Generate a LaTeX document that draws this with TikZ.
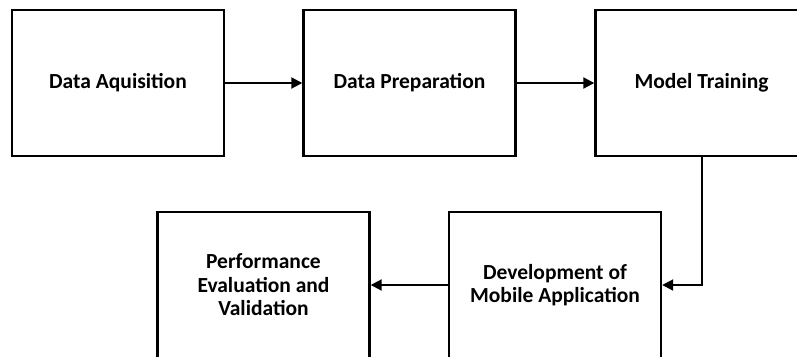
\documentclass[tikz,border=0pt]{standalone}
\usepackage{fontspec}
\setmainfont{Carlito}
\usetikzlibrary{arrows.meta}
\begin{document}
\begin{tikzpicture}[x=1pt, y=-1pt, line join=miter, >={Triangle[length=11pt,width=11pt]},
		stagebox/.style={draw, line width=2.4pt, minimum width=212pt, minimum height=146pt, inner sep=0pt, align=center, font=\fontsize{21.5}{23.5}\selectfont\bfseries},
		flow/.style={->, line width=2pt}]
			\useasboundingbox (0,0) rectangle (797,356);
			\clip (0,0) rectangle (797,356);
			\node[stagebox] (acq) at (118,83) {Data Aquisition};
			\node[stagebox] (prep) at (409.5,83) {Data Preparation};
			\node[stagebox] (train) at (701.5,83) {Model Training};
			\node[stagebox] (perf) at (263.5,285) {Performance\\Evaluation and\\Validation};
			\node[stagebox] (mobile) at (555,285) {Development of\\Mobile Application};
			\draw[flow] (acq) -- (prep);
			\draw[flow] (prep) -- (train);
			\draw[flow] (train.south) |- (mobile.east);
			\draw[flow] (mobile) -- (perf);
		\end{tikzpicture}
\end{document}
